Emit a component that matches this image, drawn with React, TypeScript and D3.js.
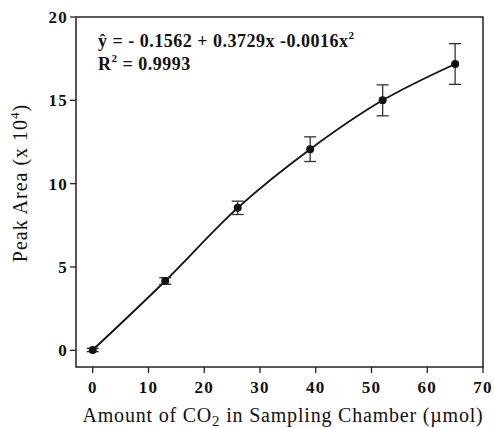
import React from 'react'
import * as d3 from 'd3'

const co2Amount = [0, 13, 26, 39, 52, 65]
const peakArea = [0.02, 4.16, 8.55, 12.07, 15.0, 17.18]
const peakError = [0.1, 0.2, 0.4, 0.74, 0.93, 1.22]
const xTicks = [0, 10, 20, 30, 40, 50, 60, 70]
const yTicks = [0, 5, 10, 15, 20]

const W = 494
const H = 428
const margin = { top: 17, right: 11, bottom: 61, left: 76 }
const serif = { fontFamily: '"Liberation Serif", "DejaVu Serif", serif' }

export default function App() {
  const innerW = W - margin.left - margin.right
  const innerH = H - margin.top - margin.bottom

  const x = d3.scaleLinear().domain([-3, 70]).range([0, innerW])
  const y = d3.scaleLinear().domain([-1, 20]).range([innerH, 0])

  const pts = co2Amount.map((c, i) => ({ c, v: peakArea[i], e: peakError[i] }))
  const line = d3
    .line<{ c: number; v: number }>()
    .x((d) => x(d.c))
    .y((d) => y(d.v))
    .curve(d3.curveCatmullRom.alpha(0.5))

  return (
    <svg width={W} height={H} style={{ position: 'absolute', left: 0, top: 0 }}>
      <g transform={`translate(${margin.left},${margin.top})`}>
        <rect x={0} y={0} width={innerW} height={innerH} fill="none" stroke="#222" strokeWidth={1.5} />
        {xTicks.map((t) => (
          <g key={'x' + t} transform={`translate(${x(t)},${innerH})`}>
            <line y2={6} stroke="#222" strokeWidth={1.3} />
            <text y={26} textAnchor="middle" fontSize={17} fontWeight="bold" letterSpacing={1.2} fill="#111" style={serif}>
              {t}
            </text>
          </g>
        ))}
        {yTicks.map((t) => (
          <g key={'y' + t} transform={`translate(0,${y(t)})`}>
            <line x2={-6} stroke="#222" strokeWidth={1.3} />
            <text x={-8} dy="0.35em" textAnchor="end" fontSize={17} fontWeight="bold" letterSpacing={1.2} fill="#111" style={serif}>
              {t}
            </text>
          </g>
        ))}

        <path d={line(pts) || ''} fill="none" stroke="#111" strokeWidth={1.8} />

        {pts.map((d, i) => (
          <g key={'p' + i}>
            <line x1={x(d.c)} x2={x(d.c)} y1={y(d.v - d.e)} y2={y(d.v + d.e)} stroke="#333" strokeWidth={1.3} />
            <line x1={x(d.c) - 6} x2={x(d.c) + 6} y1={y(d.v - d.e)} y2={y(d.v - d.e)} stroke="#333" strokeWidth={1.3} />
            <line x1={x(d.c) - 6} x2={x(d.c) + 6} y1={y(d.v + d.e)} y2={y(d.v + d.e)} stroke="#333" strokeWidth={1.3} />
            <circle cx={x(d.c)} cy={y(d.v)} r={4} fill="#111" />
          </g>
        ))}

        <text x={22} y={30} fontSize={18} fontWeight="bold" letterSpacing={0.5} fill="#111" style={serif}>
          <tspan>{'\u0177 = - 0.1562 + 0.3729x -0.0016x'}</tspan>
          <tspan dy={-8} fontSize={11}>2</tspan>
        </text>
        <text x={22} y={53} fontSize={18} fontWeight="bold" letterSpacing={0.5} fill="#111" style={serif}>
          <tspan>R</tspan>
          <tspan dy={-8} fontSize={11}>2</tspan>
          <tspan dy={8}> = 0.9993</tspan>
        </text>
      </g>

      <text
        transform={`translate(27,183) rotate(-90)`}
        textAnchor="middle"
        fontSize={20}
        letterSpacing={1}
        fill="#111"
        style={serif}
      >
        <tspan>Peak Area (x 10</tspan>
        <tspan dy={-8} fontSize={13}>4</tspan>
        <tspan dy={8}>)</tspan>
      </text>
      <text x={283} y={422} textAnchor="middle" fontSize={20} letterSpacing={0.8} fill="#111" style={serif}>
        <tspan>Amount of CO</tspan>
        <tspan dy={4} fontSize={15}>2</tspan>
        <tspan dy={-4}>{'  in Sampling Chamber (\u00b5mol)'}</tspan>
      </text>
    </svg>
  )
}
